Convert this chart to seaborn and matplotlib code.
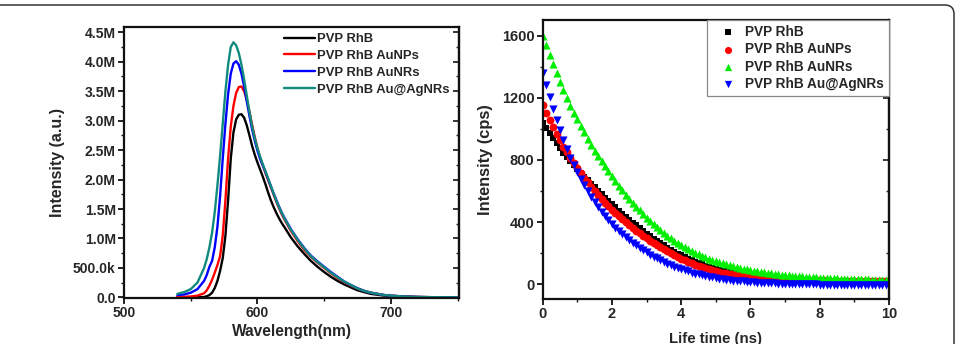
import matplotlib
matplotlib.use("Agg")
import matplotlib.pyplot as plt
from matplotlib.patches import FancyBboxPatch
from matplotlib.ticker import FixedLocator, MultipleLocator
import numpy as np
import pandas as pd
import seaborn as sns

# ---------------- data: emission spectra (left) ----------------
wavelength = [540, 545, 550, 555, 560, 562, 564, 566, 568, 570, 572, 574, 576, 578,
              580, 582, 584, 586, 588, 590, 592, 594, 596, 598, 600, 602, 604, 606,
              608, 610, 612, 614, 616, 618, 620, 625, 630, 635, 640, 645, 650, 655,
              660, 665, 670, 675, 680, 685, 690, 695, 700, 710, 720, 730, 740, 750]

pl_rhb = [0.005, 0.005, 0.005, 0.005, 0.006, 0.02, 0.04, 0.08, 0.16, 0.28, 0.45, 0.67, 1.05, 1.65,
          2.36, 2.80, 3.02, 3.10, 3.11, 3.05, 2.92, 2.75, 2.57, 2.42, 2.29, 2.17, 2.05, 1.92,
          1.78, 1.65, 1.54, 1.44, 1.35, 1.27, 1.20, 1.02, 0.87, 0.74, 0.62, 0.52, 0.43, 0.35,
          0.28, 0.22, 0.17, 0.12, 0.09, 0.06, 0.045, 0.03, 0.02, 0.01, 0.005, 0.003, 0.001, 0.0]
pl_aunps = [0.01, 0.01, 0.015, 0.03, 0.07, 0.12, 0.20, 0.30, 0.42, 0.55, 0.70, 1.05, 1.65, 2.36,
            2.90, 3.25, 3.47, 3.57, 3.58, 3.50, 3.35, 3.15, 2.93, 2.72, 2.53, 2.37, 2.24, 2.11,
            1.99, 1.87, 1.75, 1.63, 1.52, 1.42, 1.33, 1.13, 0.96, 0.81, 0.69, 0.59, 0.50, 0.41,
            0.33, 0.26, 0.20, 0.15, 0.11, 0.08, 0.06, 0.04, 0.03, 0.015, 0.008, 0.004, 0.002, 0.001]
pl_aunrs = [0.04, 0.05, 0.08, 0.14, 0.28, 0.38, 0.52, 0.62, 0.85, 1.20, 1.72, 2.36, 2.95, 3.45,
            3.80, 3.97, 4.01, 3.95, 3.80, 3.58, 3.33, 3.08, 2.85, 2.66, 2.49, 2.35, 2.24, 2.13,
            2.01, 1.89, 1.77, 1.66, 1.55, 1.45, 1.36, 1.16, 0.99, 0.84, 0.71, 0.61, 0.52, 0.43,
            0.35, 0.27, 0.21, 0.155, 0.11, 0.08, 0.06, 0.04, 0.03, 0.015, 0.008, 0.004, 0.002, 0.001]
pl_auagnrs = [0.06, 0.09, 0.14, 0.25, 0.50, 0.65, 0.85, 1.10, 1.45, 1.90, 2.40, 2.95, 3.50, 3.95,
              4.25, 4.33, 4.28, 4.15, 3.95, 3.70, 3.42, 3.15, 2.90, 2.70, 2.53, 2.39, 2.26, 2.14,
              2.02, 1.89, 1.77, 1.65, 1.54, 1.44, 1.35, 1.15, 0.98, 0.83, 0.70, 0.60, 0.51, 0.42,
              0.34, 0.27, 0.21, 0.15, 0.11, 0.08, 0.06, 0.04, 0.03, 0.015, 0.008, 0.004, 0.002, 0.001]

spec_labels = ["PVP RhB", "PVP RhB AuNPs", "PVP RhB AuNRs", "PVP RhB Au@AgNRs"]
spec_colors = ["#000000", "#ff0000", "#0000ff", "#118a7e"]

# ---------------- data: fluorescence decay (right) ----------------
time_ns = [0.0, 0.1, 0.2, 0.3, 0.4, 0.5, 0.6, 0.7, 0.8, 0.9,
           1.0, 1.1, 1.2, 1.3, 1.4, 1.5, 1.6, 1.7, 1.8, 1.9,
           2.0, 2.1, 2.2, 2.3, 2.4, 2.5, 2.6, 2.7, 2.8, 2.9,
           3.0, 3.1, 3.2, 3.3, 3.4, 3.5, 3.6, 3.7, 3.8, 3.9,
           4.0, 4.1, 4.2, 4.3, 4.4, 4.5, 4.6, 4.7, 4.8, 4.9,
           5.0, 5.1, 5.2, 5.3, 5.4, 5.5, 5.6, 5.7, 5.8, 5.9,
           6.0, 6.1, 6.2, 6.3, 6.4, 6.5, 6.6, 6.7, 6.8, 6.9,
           7.0, 7.1, 7.2, 7.3, 7.4, 7.5, 7.6, 7.7, 7.8, 7.9,
           8.0, 8.1, 8.2, 8.3, 8.4, 8.5, 8.6, 8.7, 8.8, 8.9,
           9.0, 9.1, 9.2, 9.3, 9.4, 9.5, 9.6, 9.7, 9.8, 9.9, 10.0]

decay_rhb = [1040, 1005, 972, 938, 906, 875, 847, 819, 792, 766,
             740, 716, 693, 670, 647, 625, 603, 580, 558, 536,
             515, 494, 474, 454, 434, 415, 396, 378, 360, 342,
             325, 309, 293, 278, 264, 250, 236, 223, 210, 197,
             185, 174, 164, 154, 144, 135, 127, 119, 112, 105,
             98, 93, 88, 84, 79, 75, 71, 67, 62, 58,
             55, 52, 49, 47, 44, 42, 40, 38, 36, 34,
             32, 31, 30, 28, 27, 26, 25, 24, 23, 23,
             22, 21, 21, 20, 20, 19, 19, 18, 18, 18,
             17, 17, 17, 16, 16, 16, 16, 15, 15, 15, 15]
decay_aunps = [1150, 1102, 1056, 1010, 967, 925, 886, 848, 811, 777,
               745, 714, 684, 655, 627, 600, 574, 549, 525, 502,
               480, 459, 438, 418, 399, 380, 362, 344, 327, 311,
               295, 280, 265, 251, 238, 225, 212, 199, 187, 176,
               165, 155, 145, 135, 126, 118, 111, 104, 97, 91,
               85, 80, 75, 71, 67, 63, 60, 57, 53, 50,
               48, 46, 44, 42, 40, 38, 37, 35, 34, 33,
               32, 31, 30, 29, 29, 28, 27, 27, 26, 26,
               25, 25, 24, 24, 24, 23, 23, 23, 22, 22,
               22, 22, 21, 21, 21, 21, 20, 20, 20, 20, 20]
decay_aunrs = [1600, 1536, 1474, 1414, 1356, 1300, 1248, 1197, 1149, 1103,
               1060, 1018, 977, 937, 898, 860, 826, 792, 759, 727,
               695, 665, 635, 605, 577, 550, 524, 499, 475, 451,
               428, 407, 386, 367, 348, 330, 313, 297, 281, 266,
               252, 239, 226, 214, 203, 192, 182, 173, 164, 156,
               148, 141, 134, 128, 122, 116, 111, 106, 101, 96,
               92, 88, 84, 81, 77, 74, 71, 68, 65, 62,
               60, 58, 56, 54, 52, 50, 48, 47, 45, 44,
               42, 41, 40, 39, 38, 37, 36, 35, 34, 34,
               33, 32, 32, 31, 31, 30, 30, 29, 29, 28, 28]
decay_auagnrs = [1360, 1280, 1203, 1128, 1058, 990, 928, 870, 815, 766,
                 720, 677, 636, 598, 562, 528, 497, 467, 439, 413,
                 388, 365, 343, 322, 303, 284, 267, 250, 234, 219,
                 205, 191, 178, 166, 154, 143, 133, 123, 114, 105,
                 97, 89, 82, 75, 69, 63, 58, 53, 48, 44,
                 40, 36, 33, 30, 27, 24, 22, 20, 18, 16,
                 14, 13, 11, 10, 9, 8, 6, 5, 4, 4,
                 3, 2, 2, 1, 1, 0, 0, 0, -1, -1,
                 -2, -2, -2, -3, -3, -3, -3, -3, -4, -4,
                 -4, -4, -4, -4, -5, -5, -5, -5, -5, -5, -5]

decay_colors = ["#000000", "#ff0000", "#00ee00", "#0000ff"]
decay_markers = ["s", "o", "^", "v"]
decay_sizes = [22, 32, 34, 34]

# ---------------- figure ----------------
sns.set_theme(style="ticks")
plt.rcParams["font.family"] = ["Liberation Sans", "DejaVu Sans"]
plt.rcParams["font.weight"] = "bold"
plt.rcParams["axes.labelweight"] = "bold"

W, H = 957, 344
fig = plt.figure(figsize=(W / 100, H / 100), dpi=100)
fig.patch.set_facecolor("white")

def frac(l, t, r, b):
    return [l / W, 1 - b / H, (r - l) / W, (b - t) / H]

axL = fig.add_axes(frac(124, 27, 459, 298))
axR = fig.add_axes(frac(542.7, 20, 889, 299))

# left: spectra
spec_df = pd.DataFrame({
    "Wavelength": wavelength * 4,
    "Intensity": np.concatenate([pl_rhb, pl_aunps, pl_aunrs, pl_auagnrs]) * 1e6,
    "Sample": sum([[s] * len(wavelength) for s in spec_labels], []),
})
sns.lineplot(data=spec_df, x="Wavelength", y="Intensity", hue="Sample",
             palette=dict(zip(spec_labels, spec_colors)), hue_order=spec_labels,
             linewidth=1.7, ax=axL, legend=True, estimator=None, sort=False)
axL.set_xlim(500, 751)
axL.set_ylim(-0.01e6, 4.59e6)
axL.xaxis.set_major_locator(FixedLocator([500, 600, 700]))
axL.xaxis.set_minor_locator(MultipleLocator(50))
yt = [0, 0.5e6, 1e6, 1.5e6, 2e6, 2.5e6, 3e6, 3.5e6, 4e6, 4.5e6]
ytl = ["0.0", "500.0k", "1.0M", "1.5M", "2.0M", "2.5M", "3.0M", "3.5M", "4.0M", "4.5M"]
axL.set_yticks(yt)
axL.set_yticklabels(ytl)
axL.yaxis.set_minor_locator(MultipleLocator(0.25e6))
axL.set_xlabel("Wavelength(nm)", fontsize=11.2, fontweight="bold")
axL.set_ylabel("Intensity (a.u.)", fontsize=11.5, fontweight="bold")
axL.xaxis.set_label_coords(0.5, -0.097)
axL.yaxis.set_label_coords(-0.176, 0.5)
hL, lL = axL.get_legend_handles_labels()
axL.legend(hL, lL, loc="upper left", bbox_to_anchor=(0.478, 0.978), frameon=False,
           handlelength=2.4, handletextpad=0.15, borderpad=0.0,
           borderaxespad=0.0, labelspacing=0.36, prop={"weight": "bold", "size": 9.4})

# right: decay
for vals, lab, c, m, s in zip([decay_rhb, decay_aunps, decay_aunrs, decay_auagnrs],
                              spec_labels, decay_colors, decay_markers, decay_sizes):
    sns.scatterplot(x=time_ns, y=vals, color=c, marker=m, s=s, linewidth=0,
                    label=lab, ax=axR)
axR.set_xlim(0, 10)
axR.set_ylim(-95, 1700)
axR.xaxis.set_major_locator(MultipleLocator(2))
axR.xaxis.set_minor_locator(MultipleLocator(1))
axR.yaxis.set_major_locator(FixedLocator([0, 400, 800, 1200, 1600]))
axR.yaxis.set_minor_locator(MultipleLocator(200))
axR.set_xlabel("Life time (ns)", fontsize=10.8, fontweight="bold")
axR.set_ylabel("Intensity (cps)", fontsize=11.8, fontweight="bold")
axR.xaxis.set_label_coords(0.5, -0.118)
axR.yaxis.set_label_coords(-0.143, 0.5)
hR, lR = axR.get_legend_handles_labels()
legR = axR.legend(hR, lR, loc="upper right", bbox_to_anchor=(1.0, 1.0), frameon=True,
                  fancybox=False, edgecolor="#888888", framealpha=1, handlelength=2.35,
                  handletextpad=0.1, borderpad=0.35, borderaxespad=0.0, labelspacing=0.25,
                  prop={"weight": "bold", "size": 9.8}, markerscale=0.9)
legR.get_frame().set_linewidth(0.9)

for ax, tls in ((axL, 10.0), (axR, 10.5)):
    for sp in ax.spines.values():
        sp.set_visible(True)
        sp.set_linewidth(1.6)
        sp.set_color("#111111")
    ax.tick_params(axis="both", which="major", direction="out", length=4, width=1.3,
                   labelsize=tls, color="#111111", pad=2)
    ax.tick_params(axis="both", which="minor", direction="out", length=2.5, width=1.0,
                   color="#111111")
    for lab in ax.get_xticklabels() + ax.get_yticklabels():
        lab.set_fontweight("bold")
    sec = ax.secondary_yaxis("right")
    sec.set_yticks(ax.get_yticks())
    sec.yaxis.set_minor_locator(ax.yaxis.get_minor_locator())
    sec.tick_params(axis="y", which="major", direction="in", length=4, width=1.3,
                    labelright=False)
    sec.tick_params(axis="y", which="minor", direction="in", length=2.5, width=1.0)
    sec.spines["right"].set_linewidth(1.6)

# page frame with rounded corner
frame = FancyBboxPatch((-30, -30), 30 + 954, 30 + (H - 5),
                       boxstyle="round,pad=0,rounding_size=9",
                       transform=None, fill=False, ec="#333333", lw=1.1)
fig.patches.append(frame)

fig.savefig("out.png", dpi=100)
